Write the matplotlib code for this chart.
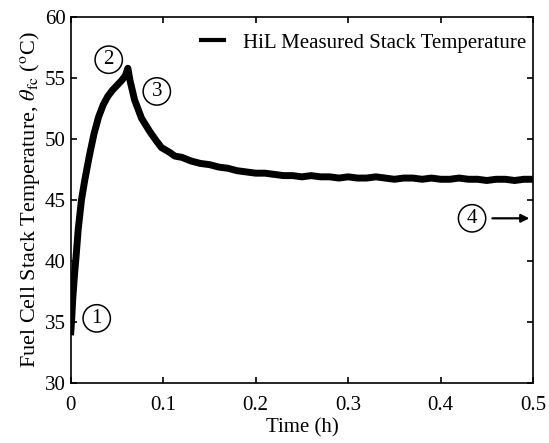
import numpy as np
import matplotlib.pyplot as plt

plt.rcParams['font.family'] = ['Liberation Serif', 'DejaVu Serif']
plt.rcParams['mathtext.fontset'] = 'stix'

# Measured stack temperature (time in h, temperature in degC)
time_h = [0.0, 0.001, 0.002, 0.004, 0.0055, 0.008, 0.0115, 0.015, 0.02, 0.025,
          0.030, 0.035, 0.040, 0.045, 0.050, 0.055, 0.059, 0.0617, 0.064,
          0.069, 0.0765, 0.0855, 0.092, 0.098, 0.107, 0.1125, 0.12, 0.13,
          0.14, 0.15, 0.16, 0.17, 0.18, 0.19, 0.20, 0.21, 0.22, 0.23, 0.24,
          0.25, 0.26, 0.27, 0.28, 0.29, 0.30, 0.31, 0.32, 0.33, 0.34, 0.35,
          0.36, 0.37, 0.38, 0.39, 0.40, 0.41, 0.42, 0.43, 0.44, 0.45, 0.46,
          0.47, 0.48, 0.49, 0.50]
temp_c = [34.2, 35.3, 36.8, 38.9, 40.2, 42.6, 45.0, 46.6, 48.6, 50.4,
          51.8, 52.8, 53.5, 54.0, 54.4, 54.8, 55.2, 55.8, 54.8,
          53.2, 51.7, 50.6, 49.9, 49.3, 48.9, 48.6, 48.5, 48.2,
          48.0, 47.9, 47.7, 47.6, 47.4, 47.3, 47.2, 47.2, 47.1, 47.0, 47.0,
          46.9, 47.0, 46.9, 46.9, 46.8, 46.9, 46.8, 46.8, 46.9, 46.8, 46.7,
          46.8, 46.8, 46.7, 46.8, 46.7, 46.7, 46.8, 46.7, 46.7, 46.6, 46.7,
          46.7, 46.6, 46.7, 46.7]

markers = ['1', '2', '3', '4']
marker_t = [0.028, 0.041, 0.093, 0.434]
marker_y = [35.3, 56.5, 53.9, 43.5]

fig = plt.figure(figsize=(5.49, 4.43), dpi=100)
ax = fig.add_axes([0.129, 0.1354, 0.842, 0.8262])

ax.plot(time_h, temp_c, color='black', lw=5, solid_joinstyle='round',
        label='HiL Measured Stack Temperature')

for m, tx, ty in zip(markers, marker_t, marker_y):
    ax.text(tx, ty, m, fontsize=15, ha='center', va='center',
            bbox=dict(boxstyle='circle,pad=0.2', fc='white', ec='black', lw=1.1))

ax.annotate('', xy=(0.499, 43.5), xytext=(0.453, 43.5),
            arrowprops=dict(arrowstyle='-|>', color='black', lw=1.6,
                            mutation_scale=12))

ax.set_xlim(0, 0.5)
ax.set_ylim(30, 60)
ax.set_xticks([0, 0.1, 0.2, 0.3, 0.4, 0.5])
ax.set_xticklabels(['0', '0.1', '0.2', '0.3', '0.4', '0.5'])
ax.set_yticks([30, 35, 40, 45, 50, 55, 60])
ax.tick_params(direction='in', top=True, right=True, labelsize=15, length=4,
               width=1.2)
ax.tick_params(axis='x', pad=9)
for s in ax.spines.values():
    s.set_linewidth(1.2)

ax.set_xlabel('Time (h)', fontsize=15, labelpad=3)
ax.set_ylabel(r'Fuel Cell Stack Temperature, $\theta_{\rm fc}$ ($^{\rm o}$C)',
              fontsize=16, labelpad=2)

leg = ax.legend(loc='upper right', bbox_to_anchor=(1.012, 0.99), frameon=False,
                fontsize=15, handlelength=1.1, handletextpad=0.9,
                borderaxespad=0.2)
for h in leg.get_lines():
    h.set_linewidth(3)

fig.savefig('out.png', dpi=100)
